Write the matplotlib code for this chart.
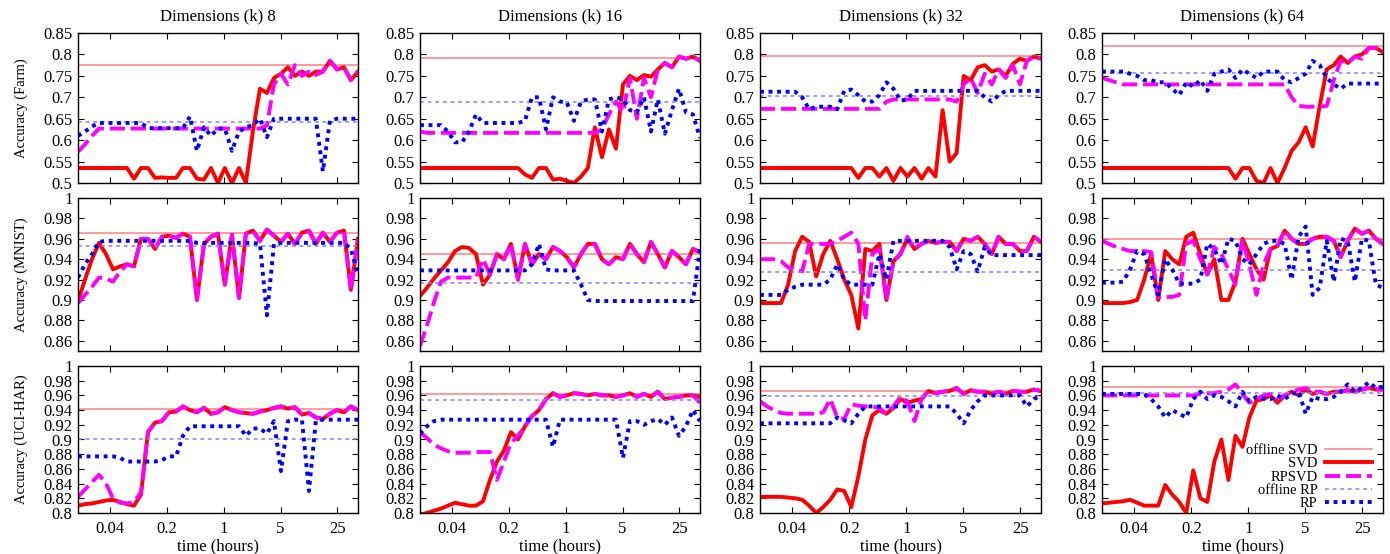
import matplotlib
matplotlib.use("Agg")
import matplotlib.pyplot as plt
from matplotlib.ticker import FormatStrFormatter, NullLocator

plt.rcParams['font.family'] = ['Liberation Serif', 'DejaVu Serif']

# time axis (hours), shared by every run
time_hours = [0.016, 0.0195, 0.0238, 0.029, 0.0354, 0.0432, 0.0527, 0.0642, 0.0783, 0.0955,
              0.1165, 0.142, 0.173, 0.211, 0.258, 0.314, 0.383, 0.467, 0.570, 0.695,
              0.848, 1.03, 1.26, 1.54, 1.87, 2.28, 2.79, 3.40, 4.15, 5.06,
              6.17, 7.52, 9.18, 11.2, 13.6, 16.6, 20.3, 24.8, 30.2, 36.8,
              45.0]

dims = [8, 16, 32, 64]
datasets = ["Farm", "MNIST", "UCI-HAR"]
xtick_vals = [0.04, 0.2, 1, 5, 25]
xtick_labels = ["0.04", "0.2", "1", "5", "25"]

# offline baselines, one per panel (rows: Farm, MNIST, UCI-HAR; cols: k=8..64)
offline_svd_farm = [0.775, 0.792, 0.797, 0.819]
offline_svd_mnist = [0.966, 0.945, 0.956, 0.960]
offline_svd_har = [0.942, 0.962, 0.966, 0.972]
offline_rp_farm = [0.642, 0.688, 0.702, 0.757]
offline_rp_mnist = [0.953, 0.917, 0.927, 0.929]
offline_rp_har = [0.900, 0.9535, 0.959, 0.963]

# ---- Farm ----
farm8_svd = [0.535, 0.535, 0.535, 0.535, 0.535, 0.535, 0.535, 0.535, 0.51, 0.535,
             0.535, 0.512, 0.513, 0.512, 0.512, 0.535, 0.535, 0.51, 0.508, 0.535,
             0.50, 0.535, 0.50, 0.535, 0.50, 0.62, 0.72, 0.71, 0.745, 0.755,
             0.77, 0.75, 0.76, 0.75, 0.76, 0.76, 0.785, 0.765, 0.77, 0.74,
             0.76]
farm8_rpsvd = [0.573, 0.59, 0.61, 0.627, 0.627, 0.627, 0.627, 0.627, 0.627, 0.627,
               0.627, 0.627, 0.627, 0.627, 0.627, 0.627, 0.627, 0.627, 0.627, 0.627,
               0.627, 0.627, 0.627, 0.627, 0.627, 0.627, 0.627, 0.635, 0.73, 0.755,
               0.73, 0.775, 0.75, 0.76, 0.752, 0.76, 0.785, 0.765, 0.77, 0.74,
               0.76]
farm8_rp = [0.61, 0.62, 0.632, 0.64, 0.64, 0.64, 0.64, 0.64, 0.64, 0.64,
            0.628, 0.628, 0.628, 0.628, 0.628, 0.628, 0.655, 0.575, 0.63, 0.61,
            0.627, 0.627, 0.575, 0.62, 0.63, 0.635, 0.65, 0.607, 0.65, 0.65,
            0.65, 0.65, 0.65, 0.65, 0.65, 0.527, 0.645, 0.65, 0.65, 0.65,
            0.65]

farm16_svd = [0.535, 0.535, 0.535, 0.535, 0.535, 0.535, 0.535, 0.535, 0.535, 0.535,
              0.535, 0.535, 0.535, 0.535, 0.535, 0.52, 0.512, 0.535, 0.535, 0.508,
              0.51, 0.505, 0.50, 0.515, 0.535, 0.63, 0.56, 0.625, 0.58, 0.73,
              0.75, 0.74, 0.752, 0.748, 0.765, 0.78, 0.77, 0.795, 0.79, 0.795,
              0.785]
farm16_rpsvd = [0.62, 0.617, 0.617, 0.617, 0.617, 0.617, 0.617, 0.617, 0.617, 0.617,
                0.617, 0.617, 0.617, 0.617, 0.617, 0.617, 0.617, 0.617, 0.617, 0.617,
                0.617, 0.617, 0.617, 0.617, 0.617, 0.617, 0.625, 0.66, 0.69, 0.665,
                0.745, 0.65, 0.745, 0.70, 0.765, 0.78, 0.77, 0.795, 0.79, 0.795,
                0.785]
farm16_rp = [0.635, 0.635, 0.635, 0.635, 0.62, 0.595, 0.595, 0.62, 0.66, 0.64,
             0.64, 0.64, 0.64, 0.64, 0.64, 0.645, 0.70, 0.70, 0.625, 0.70,
             0.69, 0.688, 0.645, 0.69, 0.695, 0.695, 0.62, 0.695, 0.70, 0.695,
             0.67, 0.665, 0.70, 0.62, 0.695, 0.615, 0.67, 0.72, 0.665, 0.66,
             0.605]

farm32_svd = [0.535, 0.535, 0.535, 0.535, 0.535, 0.535, 0.535, 0.535, 0.535, 0.535,
              0.535, 0.535, 0.535, 0.535, 0.512, 0.535, 0.535, 0.515, 0.535, 0.505,
              0.535, 0.515, 0.535, 0.51, 0.535, 0.515, 0.67, 0.55, 0.57, 0.75,
              0.74, 0.77, 0.775, 0.76, 0.765, 0.75, 0.778, 0.79, 0.785, 0.795,
              0.79]
farm32_rpsvd = [0.673, 0.673, 0.673, 0.673, 0.673, 0.673, 0.673, 0.673, 0.673, 0.673,
                0.673, 0.673, 0.673, 0.673, 0.673, 0.673, 0.673, 0.673, 0.69, 0.695,
                0.695, 0.695, 0.695, 0.695, 0.695, 0.695, 0.695, 0.695, 0.69, 0.73,
                0.745, 0.71, 0.755, 0.73, 0.765, 0.745, 0.775, 0.73, 0.785, 0.795,
                0.79]
farm32_rp = [0.713, 0.713, 0.713, 0.713, 0.713, 0.713, 0.70, 0.672, 0.678, 0.678,
             0.678, 0.672, 0.715, 0.718, 0.705, 0.69, 0.69, 0.705, 0.735, 0.72,
             0.692, 0.695, 0.715, 0.715, 0.715, 0.715, 0.715, 0.715, 0.715, 0.715,
             0.715, 0.715, 0.70, 0.69, 0.705, 0.715, 0.715, 0.715, 0.715, 0.715,
             0.715]

farm64_svd = [0.535, 0.535, 0.535, 0.535, 0.535, 0.535, 0.535, 0.535, 0.535, 0.535,
              0.535, 0.535, 0.535, 0.535, 0.535, 0.535, 0.535, 0.535, 0.535, 0.51,
              0.535, 0.535, 0.505, 0.50, 0.535, 0.50, 0.535, 0.575, 0.595, 0.63,
              0.585, 0.68, 0.765, 0.775, 0.795, 0.78, 0.795, 0.80, 0.815, 0.815,
              0.805]
farm64_rpsvd = [0.745, 0.74, 0.735, 0.73, 0.73, 0.73, 0.73, 0.73, 0.73, 0.73,
                0.73, 0.73, 0.73, 0.73, 0.73, 0.73, 0.73, 0.73, 0.73, 0.73,
                0.73, 0.73, 0.73, 0.73, 0.73, 0.73, 0.73, 0.70, 0.68, 0.678,
                0.678, 0.678, 0.68, 0.74, 0.785, 0.78, 0.795, 0.79, 0.815, 0.815,
                0.805]
farm64_rp = [0.76, 0.76, 0.76, 0.76, 0.755, 0.75, 0.74, 0.74, 0.735, 0.735,
             0.72, 0.705, 0.735, 0.725, 0.74, 0.715, 0.755, 0.76, 0.765, 0.745,
             0.765, 0.755, 0.745, 0.76, 0.76, 0.76, 0.74, 0.735, 0.745, 0.755,
             0.785, 0.775, 0.745, 0.73, 0.72, 0.732, 0.732, 0.732, 0.732, 0.732,
             0.732]

# ---- MNIST ----
mnist8_svd = [0.899, 0.92, 0.94, 0.956, 0.945, 0.93, 0.933, 0.935, 0.933, 0.96,
              0.96, 0.95, 0.962, 0.963, 0.961, 0.965, 0.962, 0.90, 0.955, 0.962,
              0.965, 0.915, 0.964, 0.902, 0.965, 0.968, 0.958, 0.969, 0.963, 0.957,
              0.965, 0.955, 0.966, 0.968, 0.955, 0.966, 0.957, 0.966, 0.968, 0.91,
              0.96]
mnist8_rpsvd = [0.897, 0.905, 0.913, 0.922, 0.921, 0.918, 0.928, 0.935, 0.933, 0.96,
                0.96, 0.95, 0.962, 0.963, 0.961, 0.965, 0.962, 0.90, 0.955, 0.962,
                0.965, 0.915, 0.964, 0.902, 0.965, 0.968, 0.958, 0.969, 0.963, 0.957,
                0.965, 0.955, 0.966, 0.968, 0.955, 0.966, 0.957, 0.966, 0.968, 0.91,
                0.96]
mnist8_rp = [0.922, 0.935, 0.945, 0.957, 0.958, 0.958, 0.958, 0.958, 0.958, 0.958,
             0.958, 0.958, 0.958, 0.958, 0.958, 0.958, 0.958, 0.956, 0.956, 0.956,
             0.956, 0.956, 0.956, 0.956, 0.956, 0.956, 0.955, 0.885, 0.955, 0.956,
             0.956, 0.956, 0.956, 0.956, 0.956, 0.956, 0.956, 0.956, 0.956, 0.95,
             0.925]

mnist16_svd = [0.904, 0.912, 0.921, 0.929, 0.937, 0.948, 0.952, 0.951, 0.945, 0.915,
               0.925, 0.945, 0.94, 0.955, 0.92, 0.955, 0.935, 0.945, 0.94, 0.952,
               0.948, 0.942, 0.932, 0.945, 0.955, 0.955, 0.94, 0.935, 0.942, 0.94,
               0.955, 0.945, 0.937, 0.957, 0.945, 0.932, 0.948, 0.942, 0.935, 0.95,
               0.947]
mnist16_rpsvd = [0.855, 0.875, 0.898, 0.918, 0.922, 0.922, 0.922, 0.922, 0.922, 0.94,
                 0.925, 0.945, 0.94, 0.955, 0.92, 0.955, 0.935, 0.945, 0.94, 0.952,
                 0.948, 0.942, 0.932, 0.945, 0.955, 0.955, 0.94, 0.935, 0.942, 0.94,
                 0.955, 0.945, 0.937, 0.957, 0.945, 0.932, 0.948, 0.942, 0.935, 0.95,
                 0.947]
mnist16_rp = [0.929, 0.929, 0.929, 0.929, 0.929, 0.929, 0.929, 0.929, 0.929, 0.929,
              0.929, 0.929, 0.929, 0.929, 0.929, 0.929, 0.935, 0.955, 0.93, 0.929,
              0.929, 0.929, 0.929, 0.915, 0.90, 0.899, 0.899, 0.899, 0.899, 0.899,
              0.899, 0.899, 0.899, 0.899, 0.899, 0.899, 0.899, 0.899, 0.899, 0.899,
              0.95]

mnist32_svd = [0.897, 0.897, 0.897, 0.897, 0.915, 0.948, 0.962, 0.957, 0.923, 0.945,
               0.958, 0.94, 0.92, 0.905, 0.872, 0.95, 0.948, 0.955, 0.90, 0.938,
               0.945, 0.96, 0.95, 0.955, 0.958, 0.956, 0.957, 0.957, 0.948, 0.96,
               0.958, 0.962, 0.955, 0.945, 0.962, 0.955, 0.955, 0.948, 0.948, 0.962,
               0.957]
mnist32_rpsvd = [0.94, 0.94, 0.94, 0.938, 0.932, 0.93, 0.928, 0.955, 0.955, 0.955,
                 0.955, 0.958, 0.962, 0.966, 0.955, 0.88, 0.945, 0.95, 0.90, 0.938,
                 0.945, 0.962, 0.95, 0.955, 0.958, 0.956, 0.957, 0.957, 0.948, 0.96,
                 0.958, 0.962, 0.955, 0.945, 0.962, 0.955, 0.955, 0.948, 0.948, 0.962,
                 0.957]
mnist32_rp = [0.905, 0.905, 0.905, 0.905, 0.91, 0.913, 0.915, 0.915, 0.915, 0.915,
              0.92, 0.935, 0.92, 0.915, 0.915, 0.915, 0.915, 0.945, 0.92, 0.958,
              0.958, 0.958, 0.958, 0.958, 0.958, 0.958, 0.958, 0.952, 0.93, 0.948,
              0.945, 0.928, 0.952, 0.944, 0.944, 0.944, 0.944, 0.944, 0.944, 0.944,
              0.944]

mnist64_svd = [0.897, 0.897, 0.897, 0.897, 0.898, 0.90, 0.92, 0.945, 0.90, 0.948,
               0.94, 0.935, 0.962, 0.966, 0.945, 0.925, 0.94, 0.90, 0.90, 0.918,
               0.96, 0.945, 0.93, 0.92, 0.95, 0.953, 0.968, 0.96, 0.955, 0.955,
               0.96, 0.962, 0.962, 0.958, 0.942, 0.958, 0.97, 0.965, 0.968, 0.96,
               0.955]
mnist64_rpsvd = [0.958, 0.955, 0.952, 0.95, 0.948, 0.948, 0.948, 0.947, 0.903, 0.903,
                 0.903, 0.905, 0.955, 0.958, 0.94, 0.925, 0.952, 0.945, 0.93, 0.915,
                 0.958, 0.935, 0.905, 0.935, 0.95, 0.953, 0.968, 0.96, 0.955, 0.955,
                 0.96, 0.962, 0.962, 0.958, 0.942, 0.958, 0.97, 0.965, 0.968, 0.96,
                 0.955]
mnist64_rp = [0.917, 0.917, 0.917, 0.918, 0.93, 0.948, 0.945, 0.925, 0.905, 0.94,
              0.93, 0.916, 0.916, 0.916, 0.92, 0.955, 0.95, 0.935, 0.96, 0.958,
              0.94, 0.935, 0.945, 0.955, 0.958, 0.958, 0.955, 0.92, 0.962, 0.972,
              0.905, 0.912, 0.958, 0.918, 0.96, 0.958, 0.918, 0.96, 0.958, 0.915,
              0.912]

# ---- UCI-HAR ----
har8_svd = [0.81, 0.812, 0.813, 0.815, 0.817, 0.818, 0.815, 0.812, 0.81, 0.825,
            0.91, 0.923, 0.925, 0.937, 0.938, 0.945, 0.94, 0.937, 0.943, 0.935,
            0.937, 0.944, 0.94, 0.937, 0.936, 0.935, 0.938, 0.94, 0.943, 0.945,
            0.942, 0.944, 0.934, 0.936, 0.93, 0.928, 0.935, 0.94, 0.937, 0.945,
            0.94]
har8_rpsvd = [0.822, 0.832, 0.842, 0.852, 0.84, 0.82, 0.814, 0.813, 0.815, 0.828,
              0.91, 0.923, 0.925, 0.937, 0.938, 0.945, 0.94, 0.937, 0.943, 0.935,
              0.937, 0.944, 0.94, 0.937, 0.936, 0.935, 0.938, 0.94, 0.943, 0.945,
              0.942, 0.944, 0.934, 0.936, 0.93, 0.928, 0.935, 0.94, 0.937, 0.945,
              0.94]
har8_rp = [0.877, 0.877, 0.877, 0.877, 0.877, 0.877, 0.875, 0.87, 0.87, 0.87,
           0.87, 0.87, 0.872, 0.877, 0.877, 0.905, 0.918, 0.918, 0.918, 0.918,
           0.918, 0.918, 0.918, 0.918, 0.905, 0.915, 0.915, 0.908, 0.925, 0.857,
           0.925, 0.927, 0.927, 0.83, 0.925, 0.927, 0.927, 0.927, 0.927, 0.927,
           0.927]

har16_svd = [0.798, 0.80, 0.803, 0.806, 0.81, 0.814, 0.812, 0.81, 0.81, 0.816,
             0.845, 0.87, 0.885, 0.91, 0.90, 0.918, 0.932, 0.94, 0.955, 0.963,
             0.958, 0.96, 0.963, 0.962, 0.96, 0.962, 0.96, 0.96, 0.958, 0.96,
             0.963, 0.958, 0.962, 0.958, 0.965, 0.955, 0.957, 0.958, 0.96, 0.96,
             0.958]
har16_rpsvd = [0.91, 0.902, 0.893, 0.888, 0.884, 0.882, 0.882, 0.882, 0.883, 0.883,
               0.883, 0.845, 0.87, 0.895, 0.905, 0.918, 0.932, 0.94, 0.955, 0.963,
               0.958, 0.96, 0.963, 0.962, 0.96, 0.962, 0.96, 0.96, 0.958, 0.96,
               0.963, 0.958, 0.962, 0.958, 0.965, 0.955, 0.957, 0.958, 0.96, 0.96,
               0.95]
har16_rp = [0.908, 0.918, 0.925, 0.927, 0.927, 0.927, 0.927, 0.927, 0.927, 0.927,
            0.927, 0.927, 0.927, 0.927, 0.927, 0.927, 0.927, 0.927, 0.927, 0.89,
            0.927, 0.927, 0.927, 0.927, 0.927, 0.927, 0.927, 0.927, 0.927, 0.875,
            0.925, 0.925, 0.92, 0.925, 0.928, 0.92, 0.93, 0.905, 0.918, 0.94,
            0.925]

har32_svd = [0.822, 0.822, 0.822, 0.822, 0.821, 0.82, 0.818, 0.81, 0.80, 0.808,
             0.818, 0.832, 0.83, 0.808, 0.85, 0.90, 0.933, 0.94, 0.935, 0.943,
             0.955, 0.95, 0.953, 0.955, 0.966, 0.963, 0.965, 0.966, 0.97, 0.962,
             0.967, 0.965, 0.965, 0.962, 0.965, 0.962, 0.966, 0.965, 0.965, 0.968,
             0.966]
har32_rpsvd = [0.952, 0.945, 0.94, 0.936, 0.935, 0.935, 0.935, 0.935, 0.935, 0.937,
               0.955, 0.93, 0.928, 0.948, 0.946, 0.945, 0.945, 0.943, 0.935, 0.945,
               0.958, 0.952, 0.925, 0.955, 0.966, 0.963, 0.965, 0.966, 0.97, 0.962,
               0.967, 0.965, 0.965, 0.962, 0.965, 0.962, 0.966, 0.965, 0.965, 0.968,
               0.966]
har32_rp = [0.922, 0.922, 0.922, 0.922, 0.922, 0.922, 0.922, 0.922, 0.922, 0.922,
            0.922, 0.93, 0.926, 0.922, 0.935, 0.945, 0.945, 0.945, 0.945, 0.945,
            0.945, 0.945, 0.945, 0.945, 0.945, 0.945, 0.945, 0.945, 0.935, 0.922,
            0.94, 0.952, 0.96, 0.96, 0.96, 0.96, 0.96, 0.96, 0.945, 0.955,
            0.96]

har64_svd = [0.813, 0.814, 0.815, 0.816, 0.818, 0.814, 0.81, 0.81, 0.81, 0.838,
             0.825, 0.815, 0.80, 0.858, 0.82, 0.815, 0.87, 0.90, 0.845, 0.905,
             0.89, 0.93, 0.953, 0.955, 0.96, 0.95, 0.96, 0.965, 0.96, 0.968,
             0.962, 0.965, 0.962, 0.965, 0.965, 0.967, 0.965, 0.968, 0.97, 0.968,
             0.968]
har64_rpsvd = [0.96, 0.96, 0.96, 0.96, 0.96, 0.96, 0.96, 0.96, 0.96, 0.96,
               0.96, 0.96, 0.96, 0.96, 0.962, 0.963, 0.963, 0.965, 0.968, 0.975,
               0.962, 0.95, 0.955, 0.96, 0.962, 0.955, 0.96, 0.965, 0.968, 0.97,
               0.965, 0.965, 0.962, 0.965, 0.965, 0.967, 0.965, 0.968, 0.97, 0.968,
               0.968]
har64_rp = [0.962, 0.962, 0.962, 0.962, 0.962, 0.962, 0.962, 0.955, 0.945, 0.93,
            0.94, 0.935, 0.93, 0.955, 0.965, 0.955, 0.96, 0.958, 0.952, 0.945,
            0.965, 0.952, 0.958, 0.956, 0.955, 0.96, 0.955, 0.962, 0.965, 0.935,
            0.958, 0.955, 0.955, 0.958, 0.965, 0.975, 0.965, 0.97, 0.978, 0.97,
            0.972]

svd_runs = [[farm8_svd, farm16_svd, farm32_svd, farm64_svd],
            [mnist8_svd, mnist16_svd, mnist32_svd, mnist64_svd],
            [har8_svd, har16_svd, har32_svd, har64_svd]]
rpsvd_runs = [[farm8_rpsvd, farm16_rpsvd, farm32_rpsvd, farm64_rpsvd],
              [mnist8_rpsvd, mnist16_rpsvd, mnist32_rpsvd, mnist64_rpsvd],
              [har8_rpsvd, har16_rpsvd, har32_rpsvd, har64_rpsvd]]
rp_runs = [[farm8_rp, farm16_rp, farm32_rp, farm64_rp],
           [mnist8_rp, mnist16_rp, mnist32_rp, mnist64_rp],
           [har8_rp, har16_rp, har32_rp, har64_rp]]
offline_svd = [offline_svd_farm, offline_svd_mnist, offline_svd_har]
offline_rp = [offline_rp_farm, offline_rp_mnist, offline_rp_har]

ylims = [(0.5, 0.85), (0.85, 1.0), (0.8, 1.0)]
yticks = [[0.5, 0.55, 0.6, 0.65, 0.7, 0.75, 0.8, 0.85],
          [0.86, 0.88, 0.9, 0.92, 0.94, 0.96, 0.98, 1.0],
          [0.8, 0.82, 0.84, 0.86, 0.88, 0.9, 0.92, 0.94, 0.96, 0.98, 1.0]]

# panel placement in pixels
W, H = 1390, 554
col_left = [78, 420, 760, 1102]
col_right = [358, 700, 1041, 1383]
row_top = [33, 198, 366]
row_bottom = [183, 351, 513]

fig = plt.figure(figsize=(W / 100, H / 100), dpi=100)

for r in range(3):
    for c in range(4):
        ax = fig.add_axes([col_left[c] / W, 1 - row_bottom[r] / H,
                           (col_right[c] - col_left[c]) / W,
                           (row_bottom[r] - row_top[r]) / H])
        ax.axhline(offline_svd[r][c], color='#ff8080', lw=1.1, label='offline SVD')
        ax.plot(time_hours, svd_runs[r][c], color='#ff0000', lw=2.8, label='SVD')
        ax.plot(time_hours, rpsvd_runs[r][c], color='#ff00ff', lw=2.8,
                dashes=(3.9, 1.5), label='RPSVD')
        ax.axhline(offline_rp[r][c], color='#8080ff', lw=1.1, dashes=(2.5, 2.5),
                   label='offline RP')
        ax.plot(time_hours, rp_runs[r][c], color='#0000ff', lw=2.8,
                dashes=(1.0, 1.2), dash_capstyle='butt', label='RP')

        ax.set_xscale('log')
        ax.set_xlim(0.016, 45)
        ax.set_ylim(*ylims[r])
        ax.set_xticks(xtick_vals)
        ax.xaxis.set_minor_locator(NullLocator())
        ax.set_yticks(yticks[r])
        ax.yaxis.set_major_formatter(FormatStrFormatter('%g'))
        ax.tick_params(direction='in', top=True, right=True, length=4,
                       labelsize=12, width=0.8)
        ax.tick_params(axis='y', pad=4)
        ax.tick_params(axis='x', pad=6)
        for s in ax.spines.values():
            s.set_linewidth(1.0)

        if r == 2:
            ax.set_xticklabels(xtick_labels)
            ax.set_xlabel("time (hours)", fontsize=12, labelpad=1)
        else:
            ax.set_xticklabels([])
        if r == 0:
            ax.set_title("Dimensions (k) " + str(dims[c]), fontsize=12, pad=9)
        if c == 0:
            ax.set_ylabel("Accuracy (" + datasets[r] + ")", fontsize=10.5)
            ax.yaxis.set_label_coords(-0.18, 0.5)

        if r == 2 and c == 3:
            ax.legend(loc='lower right', bbox_to_anchor=(0.965, 0.01), frameon=False,
                      markerfirst=False, fontsize=10.5, handlelength=3.2,
                      handletextpad=0.5, labelspacing=0.0, borderpad=0.1,
                      borderaxespad=0.0)

fig.savefig("out.png", dpi=100)
